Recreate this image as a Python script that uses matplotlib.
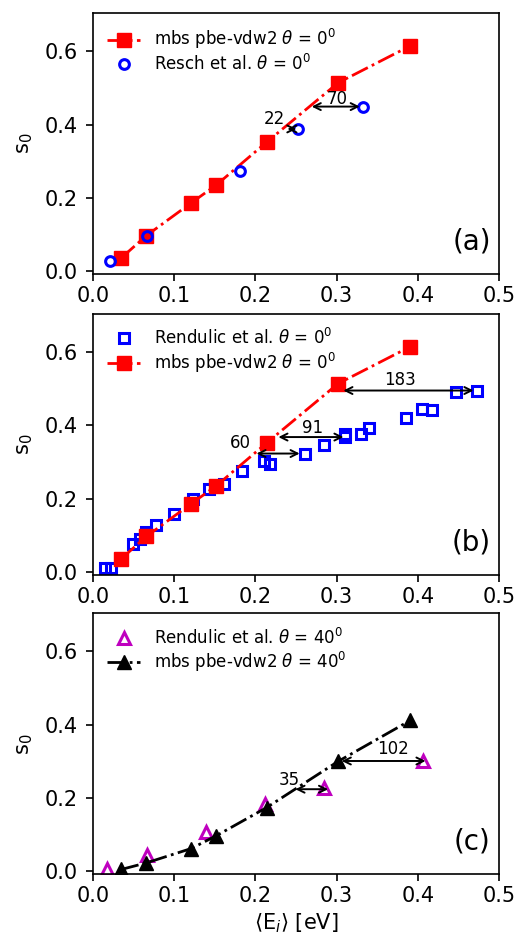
import numpy as np
import matplotlib
matplotlib.use('Agg')
import matplotlib.pyplot as plt

# mbs pbe-vdw2 sticking, theta = 0 and 40
e_mbs = [0.035, 0.066, 0.121, 0.152, 0.214, 0.302, 0.391]
s_mbs_0 = [0.036, 0.097, 0.186, 0.235, 0.352, 0.514, 0.615]
s_mbs_40 = [0.005, 0.023, 0.062, 0.097, 0.174, 0.300, 0.412]

# Resch et al., theta = 0
e_resch = [0.021, 0.067, 0.181, 0.253, 0.333]
s_resch = [0.027, 0.095, 0.272, 0.388, 0.449]

# Rendulic et al., theta = 0
e_rend_0 = [0.015, 0.022, 0.049, 0.058, 0.066, 0.0775, 0.100, 0.123, 0.143, 0.162,
            0.183, 0.211, 0.218, 0.261, 0.284, 0.310, 0.311, 0.330, 0.340, 0.385,
            0.405, 0.417, 0.447, 0.473]
s_rend_0 = [0.010, 0.011, 0.075, 0.091, 0.109, 0.127, 0.159, 0.200, 0.226, 0.240,
            0.276, 0.302, 0.295, 0.322, 0.347, 0.377, 0.367, 0.375, 0.393, 0.419,
            0.445, 0.441, 0.491, 0.495]

# Rendulic et al., theta = 40
e_rend_40 = [0.017, 0.067, 0.139, 0.212, 0.285, 0.406]
s_rend_40 = [0.005, 0.045, 0.106, 0.183, 0.226, 0.301]

# arrows: (x_start, x_end, y, label, label_x, label_y)
arrows_a = [(0.236, 0.254, 0.388, '22', 0.223, 0.415),
            (0.266, 0.332, 0.449, '70', 0.301, 0.470)]
arrows_b = [(0.198, 0.258, 0.323, '60', 0.182, 0.352),
            (0.225, 0.312, 0.368, '91', 0.271, 0.393),
            (0.305, 0.472, 0.495, '183', 0.378, 0.523)]
arrows_c = [(0.246, 0.293, 0.224, '35', 0.242, 0.250),
            (0.303, 0.413, 0.301, '102', 0.369, 0.333)]

fig = plt.figure(figsize=(5.16, 9.4), dpi=100)
left, width, height = 0.180, 0.787, 0.2775
ax_a = fig.add_axes([left, 0.7085, width, height])
ax_b = fig.add_axes([left, 0.3885, width, height])
ax_c = fig.add_axes([left, 0.0700, width, height])

lab0 = r'mbs pbe-vdw2 $\theta$ = 0$^0$'
lab40 = r'mbs pbe-vdw2 $\theta$ = 40$^0$'

# (a)
ax_a.plot(e_mbs, s_mbs_0, 's-.', color='red', ms=9.5, lw=2, label=lab0)
ax_a.plot(e_resch, s_resch, 'o', color='blue', mfc='none', ms=7, mew=2.2,
          label=r'Resch et al. $\theta$ = 0$^0$')

# (b)
ax_b.plot(e_rend_0, s_rend_0, 's', color='blue', mfc='none', ms=7.5, mew=2.2,
          label=r'Rendulic et al. $\theta$ = 0$^0$')
ax_b.plot(e_mbs, s_mbs_0, 's-.', color='red', ms=9.5, lw=2, label=lab0)

# (c)
ax_c.plot(e_rend_40, s_rend_40, '^', color='m', mfc='none', ms=8, mew=2.2,
          label=r'Rendulic et al. $\theta$ = 40$^0$')
ax_c.plot(e_mbs, s_mbs_40, '^-.', color='black', ms=9.5, lw=2, label=lab40)

for ax, arrows, tag in [(ax_a, arrows_a, '(a)'), (ax_b, arrows_b, '(b)'),
                        (ax_c, arrows_c, '(c)')]:
    for x0, x1, y, txt, tx, ty in arrows:
        ax.annotate('', xy=(x0, y), xytext=(x1, y),
                    arrowprops=dict(arrowstyle='<->,head_length=0.5,head_width=0.25',
                                    color='black', lw=1.4))
        ax.text(tx, ty, txt, fontsize=12, ha='center', va='center')
    ax.set_xlim(0, 0.5)
    ax.set_ylim(-0.008, 0.704)
    ax.set_xticks([0.0, 0.1, 0.2, 0.3, 0.4, 0.5])
    ax.set_yticks([0.0, 0.2, 0.4, 0.6])
    ax.tick_params(labelsize=15, length=5, width=1.2)
    ax.tick_params(axis='y', pad=6)
    for sp in ax.spines.values():
        sp.set_linewidth(1.2)
    ax.set_ylabel('s$_0$', fontsize=15, labelpad=7)
    ax.text(0.98, 0.07, tag, transform=ax.transAxes, fontsize=20,
            ha='right', va='bottom')
    ax.legend(loc='upper left', frameon=False, fontsize=12,
              handlelength=2, labelspacing=0.15, borderaxespad=0.45)

ax_c.set_xlabel(r'$\langle$E$_i\rangle$ [eV]', fontsize=15)

fig.savefig('out.png', dpi=100)
